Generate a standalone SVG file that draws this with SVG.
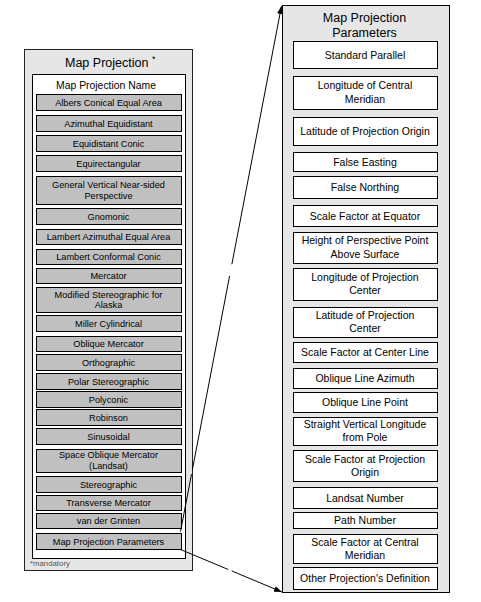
<svg xmlns="http://www.w3.org/2000/svg" width="481" height="602" viewBox="0 0 481 602">
<style>
text{font-family:"Liberation Sans",Arial,sans-serif;fill:#000;text-anchor:middle}
.panel{fill:#e6e6e6;stroke:#222;stroke-width:1}
.inner{fill:#fff;stroke:#000;stroke-width:1}
.li{fill:#c0c0c0;stroke:#000;stroke-width:1}
.ri{fill:#fff;stroke:#000;stroke-width:1}
.lt{font-size:9.2px}
.rt{font-size:10.5px}
.title{font-size:12.5px}
.conn{fill:none;stroke:#000;stroke-width:1}
</style>
<defs>
<marker id="ah" viewBox="0 0 8 6" refX="8" refY="3" markerWidth="8" markerHeight="6" markerUnits="userSpaceOnUse" orient="auto">
<path d="M0,0 L8,3 L0,6 z" fill="#000"/>
</marker>
</defs>
<rect x="0" y="0" width="481" height="602" fill="#fff"/>

<g id="map-projection">
<rect class="panel" x="24.5" y="49.5" width="168" height="521"/>
<text class="title" x="65" y="67" style="text-anchor:start">Map Projection</text>
<text x="152" y="62" style="text-anchor:start;font-size:9px">*</text>
<rect class="inner" x="32.5" y="74.5" width="153" height="484"/>
<text x="106" y="89" style="font-size:10.4px">Map Projection Name</text>
<text x="30" y="566" style="text-anchor:start;font-size:7.8px;fill:#555">*mandatory</text>
</g>

<g id="albers"><rect class="li" x="36.5" y="94.5" width="145" height="16"/><text class="lt" x="108.5" y="105.8">Albers Conical Equal Area</text></g>
<g id="azimuthal"><rect class="li" x="36.5" y="115.5" width="145" height="16"/><text class="lt" x="108.5" y="126.8">Azimuthal Equidistant</text></g>
<g id="equidistant-conic"><rect class="li" x="36.5" y="135.5" width="145" height="16"/><text class="lt" x="108.5" y="146.8">Equidistant Conic</text></g>
<g id="equirectangular"><rect class="li" x="36.5" y="155.5" width="145" height="16"/><text class="lt" x="108.5" y="166.8">Equirectangular</text></g>
<g id="general-vertical"><rect class="li" x="36.5" y="176.5" width="145" height="28"/><text class="lt" x="108.5" y="188">General Vertical Near-sided</text><text class="lt" x="108.5" y="198.7">Perspective</text></g>
<g id="gnomonic"><rect class="li" x="36.5" y="208.5" width="145" height="16"/><text class="lt" x="108.5" y="219.8">Gnomonic</text></g>
<g id="lambert-azimuthal"><rect class="li" x="36.5" y="229.5" width="145" height="15"/><text class="lt" x="108.5" y="240.3">Lambert Azimuthal Equal Area</text></g>
<g id="lambert-conformal"><rect class="li" x="36.5" y="249.5" width="145" height="15"/><text class="lt" x="108.5" y="260.3">Lambert Conformal Conic</text></g>
<g id="mercator"><rect class="li" x="36.5" y="268.5" width="145" height="15"/><text class="lt" x="108.5" y="279.3">Mercator</text></g>
<g id="modified-stereographic"><rect class="li" x="36.5" y="287.5" width="145" height="25"/><text class="lt" x="108.5" y="297.5">Modified Stereographic for</text><text class="lt" x="108.5" y="307.8">Alaska</text></g>
<g id="miller"><rect class="li" x="36.5" y="315.5" width="145" height="16"/><text class="lt" x="108.5" y="326.8">Miller Cylindrical</text></g>
<g id="oblique-mercator"><rect class="li" x="36.5" y="336.5" width="145" height="15"/><text class="lt" x="108.5" y="347.3">Oblique Mercator</text></g>
<g id="orthographic"><rect class="li" x="36.5" y="354.5" width="145" height="16"/><text class="lt" x="108.5" y="365.8">Orthographic</text></g>
<g id="polar-stereographic"><rect class="li" x="36.5" y="373.5" width="145" height="16"/><text class="lt" x="108.5" y="384.8">Polar Stereographic</text></g>
<g id="polyconic"><rect class="li" x="36.5" y="391.5" width="145" height="16"/><text class="lt" x="108.5" y="402.8">Polyconic</text></g>
<g id="robinson"><rect class="li" x="36.5" y="409.5" width="145" height="16"/><text class="lt" x="108.5" y="420.8">Robinson</text></g>
<g id="sinusoidal"><rect class="li" x="36.5" y="428.5" width="145" height="16"/><text class="lt" x="108.5" y="439.8">Sinusoidal</text></g>
<g id="space-oblique-mercator"><rect class="li" x="36.5" y="449.5" width="145" height="23"/><text class="lt" x="108.5" y="458.2">Space Oblique Mercator</text><text class="lt" x="108.5" y="469">(Landsat)</text></g>
<g id="stereographic"><rect class="li" x="36.5" y="476.5" width="145" height="16"/><text class="lt" x="108.5" y="487.8">Stereographic</text></g>
<g id="transverse-mercator"><rect class="li" x="36.5" y="495.5" width="145" height="15"/><text class="lt" x="108.5" y="506.3">Transverse Mercator</text></g>
<g id="van-der-grinten"><rect class="li" x="36.5" y="513.5" width="145" height="15"/><text class="lt" x="108.5" y="524.3">van der Grinten</text></g>
<g id="map-projection-parameters-item"><rect class="li" x="36.5" y="533.5" width="145" height="16"/><text class="lt" x="108.5" y="544.8">Map Projection Parameters</text></g>

<g id="map-projection-parameters">
<rect class="panel" x="282.5" y="5.5" width="167" height="587" style="stroke:#000"/>
<text class="title" x="364.5" y="21.5">Map Projection</text>
<text class="title" x="364.5" y="36.5">Parameters</text>
</g>

<g id="standard-parallel"><rect class="ri" x="293.5" y="41.5" width="144" height="27"/><text class="rt" x="365" y="59">Standard Parallel</text></g>
<g id="longitude-central-meridian"><rect class="ri" x="293.5" y="76.5" width="144" height="33"/><text class="rt" x="365" y="89.4">Longitude of Central</text><text class="rt" x="365" y="102.6">Meridian</text></g>
<g id="latitude-projection-origin"><rect class="ri" x="293.5" y="117.5" width="144" height="28"/><text class="rt" x="365" y="135">Latitude of Projection Origin</text></g>
<g id="false-easting"><rect class="ri" x="293.5" y="152.5" width="144" height="19"/><text class="rt" x="365" y="165.6">False Easting</text></g>
<g id="false-northing"><rect class="ri" x="293.5" y="176.5" width="144" height="22"/><text class="rt" x="365" y="191.2">False Northing</text></g>
<g id="scale-factor-equator"><rect class="ri" x="293.5" y="205.5" width="144" height="21"/><text class="rt" x="365" y="219.6">Scale Factor at Equator</text></g>
<g id="height-perspective-point"><rect class="ri" x="293.5" y="232.5" width="144" height="31"/><text class="rt" x="365" y="244.2">Height of Perspective Point</text><text class="rt" x="365" y="257.5">Above Surface</text></g>
<g id="longitude-projection-center"><rect class="ri" x="293.5" y="268.5" width="144" height="32"/><text class="rt" x="365" y="280.9">Longitude of Projection</text><text class="rt" x="365" y="294.1">Center</text></g>
<g id="latitude-projection-center"><rect class="ri" x="293.5" y="307.5" width="144" height="30"/><text class="rt" x="365" y="318.9">Latitude of Projection</text><text class="rt" x="365" y="331.6">Center</text></g>
<g id="scale-factor-center-line"><rect class="ri" x="293.5" y="342.5" width="144" height="20"/><text class="rt" x="365" y="356.2">Scale Factor at Center Line</text></g>
<g id="oblique-line-azimuth"><rect class="ri" x="293.5" y="368.5" width="144" height="20"/><text class="rt" x="365" y="382.2">Oblique Line Azimuth</text></g>
<g id="oblique-line-point"><rect class="ri" x="293.5" y="392.5" width="144" height="20"/><text class="rt" x="365" y="406.2">Oblique Line Point</text></g>
<g id="straight-vertical-longitude"><rect class="ri" x="293.5" y="417.5" width="144" height="28"/><text class="rt" x="365" y="428.2">Straight Vertical Longitude</text><text class="rt" x="365" y="441.4">from Pole</text></g>
<g id="scale-factor-projection-origin"><rect class="ri" x="293.5" y="450.5" width="144" height="31"/><text class="rt" x="365" y="462.5">Scale Factor at Projection</text><text class="rt" x="365" y="475.8">Origin</text></g>
<g id="landsat-number"><rect class="ri" x="293.5" y="487.5" width="144" height="21"/><text class="rt" x="365" y="501.6">Landsat Number</text></g>
<g id="path-number"><rect class="ri" x="293.5" y="512.5" width="144" height="16"/><text class="rt" x="365" y="524.2">Path Number</text></g>
<g id="scale-factor-central-meridian"><rect class="ri" x="293.5" y="534.5" width="144" height="29"/><text class="rt" x="365" y="545.8">Scale Factor at Central</text><text class="rt" x="365" y="559">Meridian</text></g>
<g id="other-projection-definition"><rect class="ri" x="293.5" y="567.5" width="144" height="22"/><text class="rt" x="365" y="582.2">Other Projection's Definition</text></g>

<g id="connectors">
<path class="conn" d="M180.5,531.5 L281.5,6" stroke-dasharray="58.5 4 197.6 12 1000" marker-end="url(#ah)"/>
<path class="conn" d="M180.5,549.5 L282,592" stroke-dasharray="51.8 3.7 1000" marker-end="url(#ah)"/>
</g>
</svg>
